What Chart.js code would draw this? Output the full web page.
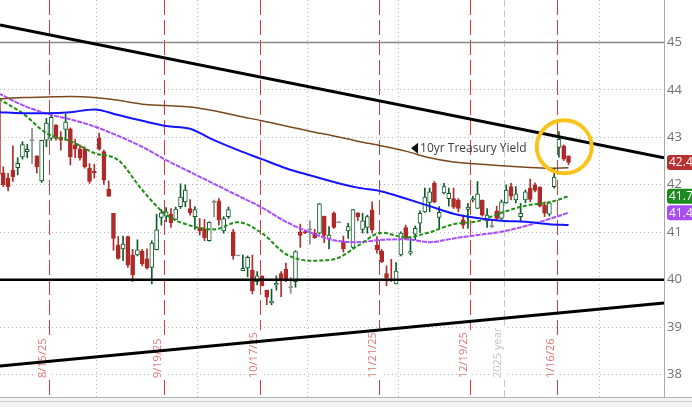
<!DOCTYPE html>
<html>
<head>
<meta charset="utf-8">
<script src="https://cdn.jsdelivr.net/npm/chart.js@4.4.1/dist/chart.umd.min.js"></script>
<style>
  html, body { margin: 0; padding: 0; background: #fff; }
  #wrap { width: 692px; height: 407px; }
</style>
</head>
<body>
<div id="wrap"><canvas id="chart" width="692" height="407"></canvas></div>
<script>
// daily candles, 8/1/25 .. 1/22/26 (index = trading day)
var open  = [43.75,42.25,42.14,42.31,42.36,42.59,42.70,42.94,42.61,42.08,42.94,42.98,43.26,43.00,43.17,43.18,42.84,42.75,42.75,42.35,
             42.29,42.98,42.70,41.91,41.40,40.73,40.65,40.91,40.52,40.52,40.60,40.44,40.26,40.63,41.31,41.34,41.38,41.27,41.54,41.64,
             41.50,41.33,41.08,41.06,40.82,41.64,41.66,41.03,41.33,41.01,40.51,40.19,40.25,40.20,39.96,40.08,39.78,39.51,39.89,40.13,
             40.22,39.84,39.96,41.01,41.01,41.06,40.98,40.98,41.34,40.87,41.40,41.21,40.80,41.03,40.68,41.41,41.06,41.10,41.47,40.73,
             40.60,40.13,40.01,39.91,40.52,41.10,40.56,40.96,41.19,41.43,41.63,42.03,41.31,41.83,41.71,41.71,41.68,41.26,41.48,41.68,
             41.50,41.68,41.24,41.13,41.45,41.29,41.62,41.96,41.68,41.33,41.68,41.93,42.00,41.95,41.57,41.38,41.96,42.79,42.82,42.61];
var high  = [43.95,42.38,42.24,42.82,42.57,42.91,42.85,43.19,42.61,42.94,43.40,43.49,43.27,43.12,43.49,43.20,42.96,42.84,42.80,42.45,
             42.43,43.09,42.73,42.08,41.40,40.91,40.92,40.92,40.64,40.84,40.64,40.65,40.82,41.38,41.48,41.52,41.50,41.53,42.02,42.00,
             41.69,41.54,41.29,41.27,41.22,41.68,41.71,41.33,41.53,41.06,40.51,40.52,40.50,40.52,40.17,40.08,39.78,39.80,40.08,40.17,
             40.35,40.05,40.61,41.17,41.03,41.24,41.06,41.61,41.34,41.12,41.43,41.21,40.92,41.19,41.48,41.41,41.40,41.36,41.64,40.91,
             40.64,40.29,40.43,40.36,41.01,41.15,40.87,41.13,41.45,41.93,41.93,42.07,41.54,42.03,41.93,41.93,41.71,41.36,41.61,41.76,
             42.07,41.68,41.50,41.26,41.55,41.68,42.00,42.03,41.96,41.61,41.89,42.12,42.04,41.96,41.64,41.64,42.35,43.12,42.84,42.61];
var low   = [42.15,41.96,41.87,42.07,42.21,42.54,42.57,42.45,42.25,42.05,42.80,42.94,42.94,42.73,42.94,42.42,42.57,42.52,42.35,42.03,
             42.14,42.73,42.01,41.75,40.62,40.43,40.40,40.26,39.96,40.50,40.29,40.22,39.91,40.63,41.15,41.22,41.10,41.26,41.50,41.54,
             41.36,41.06,40.94,40.82,40.81,41.33,41.15,40.98,41.29,40.43,40.51,40.19,40.06,39.70,39.89,39.87,39.47,39.47,39.78,39.64,
             39.96,39.71,39.84,40.68,40.97,40.75,40.87,40.96,40.78,40.65,41.08,41.21,40.58,40.87,40.67,41.24,40.98,40.98,40.98,40.56,
             40.36,39.87,39.96,39.91,40.50,40.85,40.52,40.84,40.99,41.42,41.43,41.62,41.06,41.81,41.55,41.50,41.43,41.08,41.08,41.64,
             41.50,41.34,41.10,41.10,41.27,41.27,41.61,41.68,41.62,41.22,41.62,41.64,41.85,41.53,41.33,41.34,41.93,42.58,42.51,42.42];
var close = [42.22,42.00,41.96,42.17,42.45,42.85,42.75,42.94,42.38,42.94,43.30,43.42,42.98,42.94,43.32,42.59,42.75,42.57,42.38,42.07,
             42.25,42.75,42.10,41.76,40.87,40.45,40.75,40.31,40.10,40.63,40.33,40.25,40.77,41.05,41.41,41.43,41.20,41.49,41.74,41.89,
             41.41,41.48,41.03,40.88,41.21,41.64,41.26,41.29,41.48,40.50,40.51,40.24,40.47,39.77,40.08,39.87,39.63,39.55,39.92,39.98,
             39.98,39.84,40.59,40.93,40.99,41.06,40.88,41.60,40.93,40.94,41.10,41.21,40.65,41.12,41.48,41.33,41.24,41.33,41.05,40.63,
             40.38,40.03,39.98,40.18,40.98,40.87,40.59,41.08,41.40,41.74,41.85,41.64,41.42,41.96,41.82,41.53,41.50,41.15,41.53,41.71,
             41.81,41.36,41.36,41.13,41.29,41.64,41.89,41.76,41.81,41.40,41.85,41.69,41.88,41.55,41.40,41.62,42.16,42.96,42.54,42.47];

// moving averages read every 5 trading days
var maIdx    = [0,5,10,15,20,25,30,35,40,45,50,55,60,65,70,75,80,85,90,95,100,105,110,115,119];
var maGreen  = [43.81,43.51,43.09,42.92,42.67,42.52,41.89,41.37,41.14,41.06,41.21,40.98,40.54,40.40,40.43,40.71,40.99,40.89,41.00,41.17,41.23,41.41,41.56,41.63,41.76];
var maBlue   = [43.53,43.51,43.51,43.53,43.59,43.47,43.35,43.24,43.18,42.94,42.73,42.54,42.35,42.20,42.06,41.94,41.86,41.71,41.55,41.39,41.30,41.24,41.22,41.17,41.15];
var maBrown  = [43.81,43.84,43.85,43.86,43.84,43.78,43.70,43.67,43.64,43.56,43.45,43.35,43.24,43.13,43.03,42.92,42.82,42.71,42.57,42.48,42.44,42.40,42.37,42.35,42.36];
var maPurple = [43.93,43.68,43.50,43.38,43.23,43.03,42.80,42.52,42.27,42.02,41.77,41.52,41.22,41.00,40.83,40.79,40.84,40.85,40.79,40.87,40.94,41.01,41.13,41.28,41.41];

var expiryIdx    = [10, 34, 54, 79, 98, 116];
var expiryLabels = ['8/15/25', '9/19/25', '10/17/25', '11/21/25', '12/19/25', '1/16/26'];
var yearEndIdx   = 105;
var yearLabel    = '2025 year';
var monthEndIdx  = [20, 41, 64, 83, 125];
var yTicks       = [38, 39, 40, 41, 42, 43, 44, 45];

var topTrend    = [45.37, 42.57];
var bottomTrend = [38.18, 39.51];
var resistance  = 45;
var support     = 40;
var seriesName  = '10yr Treasury Yield';

var xMin = 0.31, xMax = 138.93, yMin = 37.526, yMax = 45.896;

Chart.defaults.font.family = '"Open Sans", "DejaVu Sans", sans-serif';

var UP = '#0e5a2a', DOWN = '#b02a2a', FLAT = '#8a8a8a';
var candleColor = open.map(function(o, i) {
  return close[i] > o ? UP : (close[i] < o ? DOWN : FLAT);
});
var bodies = open.map(function(o, i) {
  var lo = Math.min(o, close[i]), hi = Math.max(o, close[i]);
  if (hi - lo < 0.02) { var m = (hi + lo) / 2; lo = m - 0.012; hi = m + 0.012; }
  return {x: i, y: [lo, hi]};
});
var wicks = open.map(function(o, i) { return {x: i, y: [low[i], high[i]]}; });

function maLine(vals, color, width, dash) {
  return {
    type: 'line',
    data: maIdx.map(function(k, j) { return {x: k, y: vals[j]}; }),
    borderColor: color, borderWidth: width, borderDash: dash,
    pointRadius: 0, cubicInterpolationMode: 'monotone', order: 1
  };
}
function straight(y0, y1, color, width) {
  return {
    type: 'line',
    data: [{x: xMin, y: y0}, {x: xMax, y: y1}],
    borderColor: color, borderWidth: width, pointRadius: 0, order: 0
  };
}

var overlay = {
  id: 'overlay',
  beforeDatasetsDraw: function(chart) {
    var ctx = chart.ctx, xs = chart.scales.x, a = chart.chartArea;
    ctx.save();
    ctx.beginPath();
    ctx.rect(a.left, a.top, a.right - a.left, a.bottom - a.top);
    ctx.clip();
    function vline(px, color, dash) {
      ctx.strokeStyle = color; ctx.lineWidth = 1; ctx.setLineDash(dash);
      ctx.beginPath(); ctx.moveTo(px, a.top); ctx.lineTo(px, a.bottom); ctx.stroke();
    }
    function vlabel(text, px, color) {
      ctx.setLineDash([]);
      ctx.font = '11px "Open Sans", sans-serif';
      var w = ctx.measureText(text).width;
      var base = a.bottom - 19;
      ctx.fillStyle = '#fff';
      ctx.fillRect(px - 13, base - w - 2, 15, w + 4);
      ctx.save();
      ctx.translate(px - 6.5, base);
      ctx.rotate(-Math.PI / 2);
      ctx.fillStyle = color;
      ctx.textAlign = 'left';
      ctx.textBaseline = 'middle';
      ctx.fillText(text, 0, 0);
      ctx.restore();
    }
    var yx = Math.round(xs.getPixelForValue(yearEndIdx + 0.5)) + 0.5;
    vline(yx, '#c6c6c6', [7, 3]);
    vlabel(yearLabel, yx, '#c4c4c4');
    expiryIdx.forEach(function(k, j) {
      var px = Math.round(xs.getPixelForValue(k + 0.5)) + 0.5;
      vline(px, '#d23c3c', [15, 5]);
      vlabel(expiryLabels[j], px, '#e07575');
    });
    ctx.restore();
  },
  afterDatasetsDraw: function(chart) {
    var ctx = chart.ctx, xs = chart.scales.x, ys = chart.scales.y;
    ctx.save();
    // series name with pointer
    var tx = xs.getPixelForValue(88), ty = ys.getPixelForValue(42.77);
    ctx.fillStyle = '#111';
    ctx.beginPath();
    ctx.moveTo(tx - 9, ty); ctx.lineTo(tx - 2, ty - 5.5); ctx.lineTo(tx - 2, ty + 5.5); ctx.closePath();
    ctx.fill();
    ctx.font = '12px "Open Sans", sans-serif';
    ctx.fillStyle = '#3c3c3c';
    ctx.textBaseline = 'middle';
    ctx.fillText(seriesName, tx, ty);
    // highlight ring around the last candles
    var cx = xs.getPixelForValue(118.1), cy = ys.getPixelForValue(42.80);
    ctx.strokeStyle = '#f8c41c';
    ctx.lineWidth = 4;
    ctx.beginPath();
    ctx.ellipse(cx, cy, 27.5, 26.5, 0, 0, Math.PI * 2);
    ctx.stroke();
    ctx.restore();
  },
  afterDraw: function(chart) {
    var ctx = chart.ctx, ys = chart.scales.y, a = chart.chartArea;
    ctx.save();
    function tag(value, color) {
      var y = ys.getPixelForValue(value);
      ctx.fillStyle = color;
      ctx.beginPath();
      ctx.roundRect(a.right + 3, y - 7.5, 40, 15, 3);
      ctx.fill();
      ctx.fillStyle = '#fff';
      ctx.font = '12px "Open Sans", sans-serif';
      ctx.textBaseline = 'middle';
      ctx.fillText(value.toFixed(2), a.right + 5, y + 0.5);
    }
    tag(close[close.length - 1], '#b83030');
    tag(maGreen[maGreen.length - 1], '#1c8a1c');
    tag(maPurple[maPurple.length - 1], '#a64df5');
    // bottom frame
    ctx.fillStyle = '#f3f3f3';
    ctx.fillRect(0, a.bottom + 1, chart.width, chart.height - a.bottom);
    ctx.fillStyle = '#b4b4b4';
    ctx.fillRect(0, a.bottom, chart.width, 1);
    ctx.fillStyle = '#d0d0d0';
    ctx.fillRect(0, a.bottom + 4, chart.width, 1);
    ctx.restore();
  }
};

new Chart(document.getElementById('chart'), {
  type: 'bar',
  data: {
    datasets: [
      straight(topTrend[0], topTrend[1], '#000', 3),
      straight(bottomTrend[0], bottomTrend[1], '#000', 3),
      straight(support, support, '#000', 2.5),
      straight(resistance, resistance, '#858585', 1.5),
      maLine(maBrown, '#7a4a1e', 1.5, []),
      maLine(maBlue, '#1414ff', 2, []),
      maLine(maGreen, '#1f8f12', 2, [4, 2]),
      maLine(maPurple, '#a84dff', 2, [5, 1]),
      {
        data: bodies, grouped: false, barThickness: 4, order: 2,
        backgroundColor: candleColor.map(function(c) { return c === UP ? '#fff' : c; }),
        borderColor: candleColor, borderWidth: 1, borderSkipped: false
      },
      {
        data: wicks, grouped: false, barThickness: 1, order: 3,
        backgroundColor: candleColor, borderWidth: 0
      }
    ]
  },
  options: {
    responsive: false,
    animation: false,
    events: [],
    layout: { padding: { left: 0, right: 0, top: 0, bottom: 10 } },
    plugins: { legend: { display: false }, tooltip: { enabled: false } },
    scales: {
      x: {
        type: 'linear', min: xMin, max: xMax, offset: false,
        afterBuildTicks: function(s) { s.ticks = monthEndIdx.map(function(k) { return {value: k + 0.5}; }); },
        afterFit: function(s) { s.height = 0; s.paddingLeft = 0; s.paddingRight = 0; },
        ticks: { display: false },
        grid: { color: '#b8b8b8', drawTicks: false, offset: false, lineWidth: 1 },
        border: { display: false, dash: [1, 3] }
      },
      y: {
        type: 'linear', position: 'right', min: yMin, max: yMax,
        afterBuildTicks: function(s) { s.ticks = yTicks.map(function(v) { return {value: v}; }); },
        afterFit: function(s) { s.width = 28; s.paddingTop = 0; s.paddingBottom = 0; },
        ticks: { color: '#707070', font: { size: 13 }, padding: 3, callback: function(v) { return String(v); } },
        grid: { color: '#b8b8b8', drawTicks: false, lineWidth: 1 },
        border: { display: true, color: '#a8a8a8', width: 1, dash: [1, 3] }
      }
    }
  },
  plugins: [overlay]
});
</script>
</body>
</html>
